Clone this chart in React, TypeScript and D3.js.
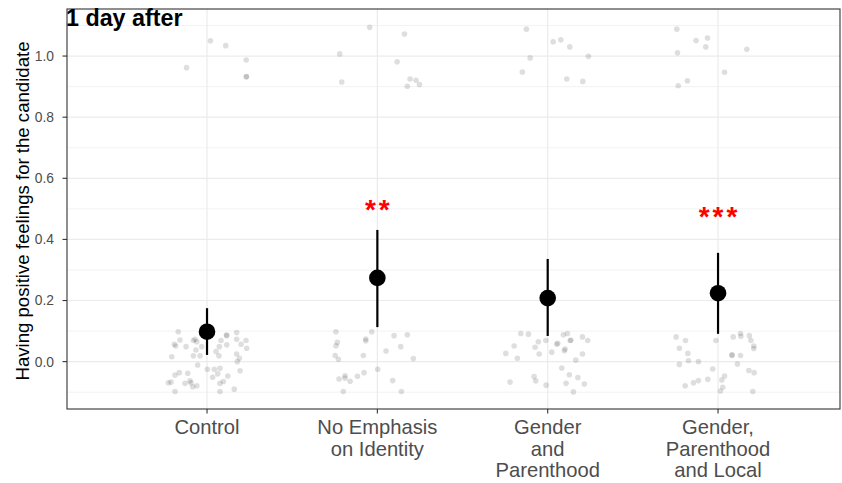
import React, { useEffect } from "react";
import * as d3 from "d3";

// group labels (line breaks as in the figure)
const categories = [
  ["Control"],
  ["No Emphasis", "on Identity"],
  ["Gender", "and", "Parenthood"],
  ["Gender,", "Parenthood", "and Local"],
];
const means = [0.098, 0.274, 0.208, 0.224];
const ciLow = [0.022, 0.113, 0.084, 0.091];
const ciHigh = [0.175, 0.431, 0.336, 0.356];
const stars = ["", "**", "", "***"];
const starY = [0, 0.506, 0, 0.483];

const yTicks = [0, 0.2, 0.4, 0.6, 0.8, 1.0];
const yMinor = [-0.1, 0.1, 0.3, 0.5, 0.7, 0.9, 1.1];

// jittered raw responses: [offset from group centre, jittered value]
const jitterControl = [
  [0.02, 1.05], [0.11, 1.034], [-0.12, 0.962], [0.23, 0.987], [0.23, 0.932], [0.232, 0.933],
  [-0.169, 0.098], [-0.159, 0.071], [-0.192, 0.057], [-0.184, 0.051], [-0.123, 0.049],
  [-0.08, 0.069], [-0.07, 0.073], [-0.06, 0.065], [-0.031, 0.049], [-0.065, 0.038],
  [-0.08, 0.019], [-0.041, 0.019], [-0.207, 0.016], [-0.055, -0.011], [0.002, -0.025],
  [0.043, -0.025], [0.076, -0.022], [0.063, -0.04], [0.033, -0.051], [0.076, -0.071],
  [0.122, -0.047], [0.096, -0.065], [0.116, 0.085], [0.114, 0.087], [0.082, 0.069],
  [0.116, 0.055], [0.072, 0.049], [0.053, 0.033], [0.07, 0.019], [0.174, 0.095],
  [0.174, 0.073], [0.2, 0.057], [0.229, 0.069], [0.233, 0.044], [0.174, 0.025],
  [0.19, 0.011], [0.178, 0.0], [0.194, -0.03], [-0.188, -0.044], [-0.163, -0.036],
  [-0.113, -0.038], [-0.227, -0.069], [-0.211, -0.067], [-0.129, -0.071], [-0.1, -0.063],
  [-0.094, -0.069], [-0.084, -0.082], [-0.06, -0.079], [-0.188, -0.098], [0.076, -0.098],
  [0.16, -0.09],
];
const jitterNoEmphasis = [
  [-0.045, 1.094], [0.159, 1.072], [-0.221, 1.007], [0.116, 0.981], [-0.209, 0.915],
  [0.192, 0.925], [0.227, 0.921], [0.247, 0.907], [0.176, 0.901],
  [-0.243, 0.098], [-0.235, 0.063], [-0.243, 0.052], [-0.248, 0.02], [-0.229, 0.008],
  [-0.033, 0.098], [-0.068, 0.074], [-0.068, 0.068], [-0.082, 0.02], [0.098, 0.085],
  [0.176, 0.088], [0.137, 0.049], [0.051, 0.035], [0.211, 0.01], [0.002, -0.025],
  [-0.078, -0.036], [-0.117, -0.048], [-0.16, -0.064], [-0.19, -0.046], [-0.19, -0.054],
  [-0.225, -0.057], [-0.2, -0.098], [0.09, -0.062], [0.141, -0.098],
];
const jitterGenderParent = [
  [-0.125, 1.088], [0.032, 1.047], [0.077, 1.053], [0.13, 1.03], [-0.103, 0.994],
  [0.239, 0.999], [-0.149, 0.948], [0.112, 0.925], [0.206, 0.917],
  [-0.158, 0.092], [-0.113, 0.09], [-0.197, 0.051], [-0.246, 0.027], [-0.178, 0.011],
  [-0.055, 0.065], [-0.074, 0.047], [-0.05, 0.025], [-0.011, 0.069], [0.024, 0.031],
  [0.059, 0.06], [0.053, 0.057], [0.092, 0.088], [0.116, 0.092], [0.136, 0.07],
  [0.132, 0.069], [0.102, 0.041], [0.098, 0.036], [0.204, 0.081], [0.235, 0.069],
  [0.204, 0.025], [0.165, 0.005], [0.083, -0.021], [0.127, -0.043], [0.177, -0.052],
  [0.215, -0.073], [0.108, -0.071], [0.151, -0.099], [-0.009, -0.077], [-0.08, -0.049],
  [-0.07, -0.063], [-0.221, -0.067],
];
const jitterGenderParentLocal = [
  [-0.242, 1.088], [-0.129, 1.051], [-0.062, 1.059], [-0.072, 1.03], [-0.238, 1.011],
  [0.169, 1.022], [0.038, 0.947], [-0.18, 0.919], [-0.234, 0.903],
  [-0.246, 0.081], [-0.191, 0.069], [-0.227, 0.044], [-0.177, 0.027], [-0.174, 0.003],
  [-0.227, -0.009], [-0.115, 0.0], [-0.013, 0.069], [0.089, 0.081], [0.132, 0.092],
  [0.134, 0.083], [0.184, 0.085], [0.193, 0.069], [0.21, 0.051], [0.21, 0.043],
  [0.081, 0.021], [0.083, 0.022], [0.132, 0.02], [0.114, -0.008], [-0.031, -0.024],
  [-0.06, -0.058], [-0.115, -0.062], [-0.144, -0.069], [-0.193, -0.079], [0.022, -0.06],
  [0.038, -0.047], [0.028, -0.084], [0.014, -0.096], [0.181, -0.029], [0.212, -0.036],
  [0.204, -0.098],
];
const jitterGroups = [jitterControl, jitterNoEmphasis, jitterGenderParent, jitterGenderParentLocal];

const W = 842;
const H = 483;
const panel = { left: 67, right: 840, top: 9, bottom: 409 };
const FONT = "'Liberation Sans', Arial, Helvetica, sans-serif";

export default function App() {
  useEffect(() => {
    document.body.style.margin = "0";
  }, []);

  const x = d3.scaleLinear().domain([0.178, 4.716]).range([panel.left, panel.right]);
  const y = d3.scaleLinear().domain([-0.155, 1.154]).range([panel.bottom, panel.top]);

  return (
    <svg width={W} height={H} style={{ display: "block", background: "#fff" }} fontFamily={FONT}>
      <rect x={panel.left} y={panel.top} width={panel.right - panel.left} height={panel.bottom - panel.top} fill="#fff" />

      {/* grid */}
      {yMinor.map((t) => (
        <line key={"mi" + t} x1={panel.left} x2={panel.right} y1={y(t)} y2={y(t)} stroke="#EBEBEB" strokeWidth={0.6} />
      ))}
      {yTicks.map((t) => (
        <line key={"ma" + t} x1={panel.left} x2={panel.right} y1={y(t)} y2={y(t)} stroke="#EBEBEB" strokeWidth={1.2} />
      ))}
      {categories.map((c, i) => (
        <line key={"vx" + i} x1={x(i + 1)} x2={x(i + 1)} y1={panel.top} y2={panel.bottom} stroke="#EBEBEB" strokeWidth={1.2} />
      ))}

      {/* jittered raw points */}
      {jitterGroups.map((pts, gi) =>
        pts.map((p, j) => (
          <circle key={gi + "-" + j} cx={x(gi + 1 + p[0])} cy={y(p[1])} r={2.8} fill="#000" fillOpacity={0.13} />
        ))
      )}

      {/* CIs and means */}
      {means.map((m, i) => (
        <g key={"m" + i}>
          <line x1={x(i + 1)} x2={x(i + 1)} y1={y(ciLow[i])} y2={y(ciHigh[i])} stroke="#000" strokeWidth={2.2} />
          <circle cx={x(i + 1)} cy={y(m)} r={8.3} fill="#000" />
        </g>
      ))}

      {/* significance stars */}
      {stars.map((s, i) =>
        s ? (
          <text key={"s" + i} x={x(i + 1)} y={y(starY[i])} dx={1.5} dy={12} textAnchor="middle" fill="#FF0000" fontSize={28} fontWeight="bold" letterSpacing={3}>
            {s}
          </text>
        ) : null
      )}

      {/* panel border */}
      <rect x={panel.left} y={panel.top} width={panel.right - panel.left} height={panel.bottom - panel.top} fill="none" stroke="#333333" strokeWidth={1.1} />

      {/* y axis */}
      {yTicks.map((t) => (
        <g key={"yt" + t}>
          <line x1={panel.left - 4.5} x2={panel.left} y1={y(t)} y2={y(t)} stroke="#333333" strokeWidth={1.1} />
          <text x={panel.left - 13} y={y(t)} dy="0.36em" textAnchor="end" fontSize={13.8} fill="#4D4D4D">
            {d3.format(".1f")(t)}
          </text>
        </g>
      ))}
      <text transform={`translate(28.5, ${(panel.top + panel.bottom) / 2 + 2}) rotate(-90)`} textAnchor="middle" fontSize={18.6} fill="#000">
        Having positive feelings for the candidate
      </text>

      {/* x axis */}
      {categories.map((lines, i) => (
        <g key={"xt" + i}>
          <line x1={x(i + 1)} x2={x(i + 1)} y1={panel.bottom} y2={panel.bottom + 4.5} stroke="#333333" strokeWidth={1.1} />
          <text x={x(i + 1)} y={434} textAnchor="middle" fontSize={20.2} fill="#4D4D4D">
            {lines.map((l, k) => (
              <tspan key={k} x={x(i + 1)} dy={k === 0 ? 0 : 21.5}>
                {l}
              </tspan>
            ))}
          </text>
        </g>
      ))}

      {/* title */}
      <text x={66} y={26} fontSize={23.3} fontWeight="bold" fill="#000">
        1 day after
      </text>
    </svg>
  );
}
